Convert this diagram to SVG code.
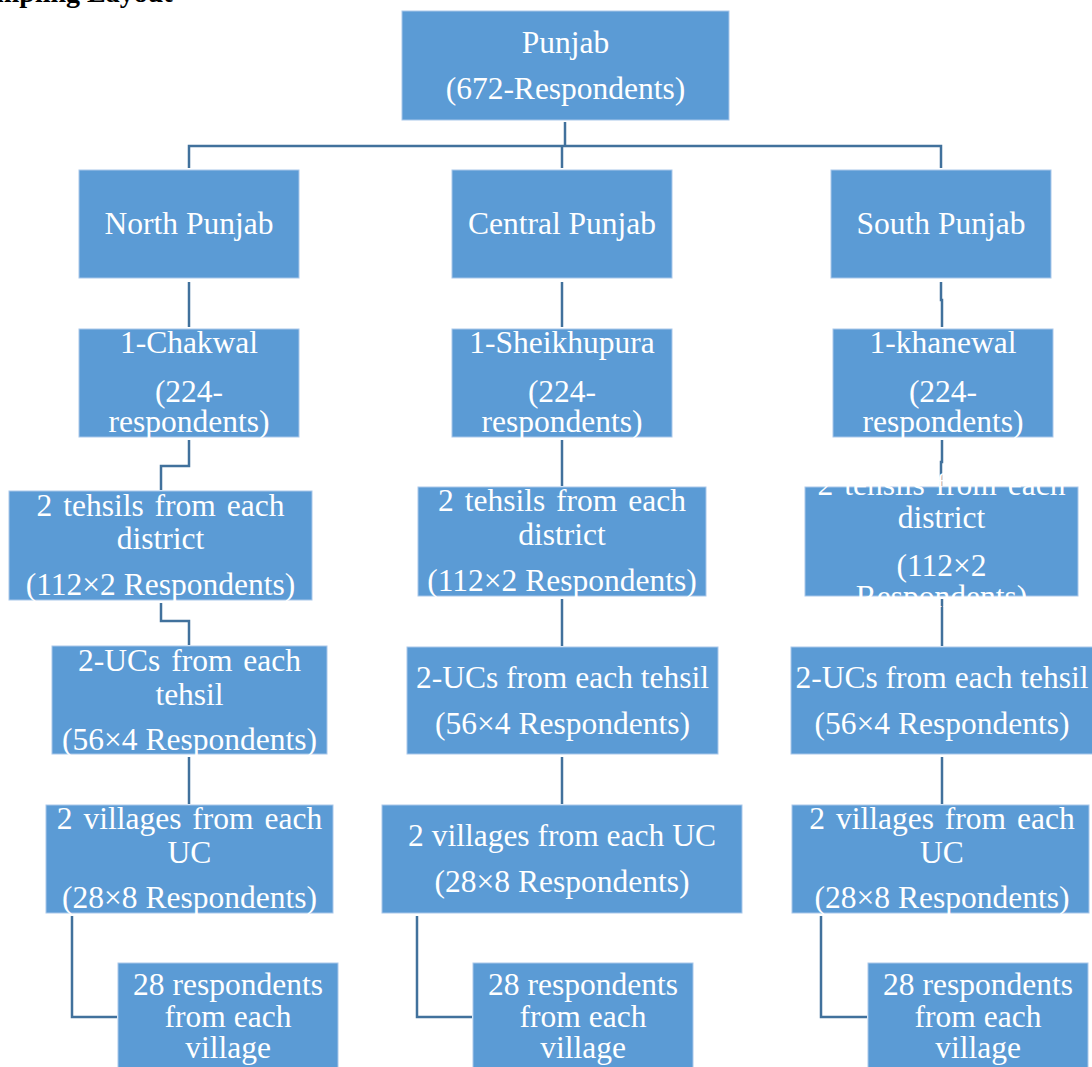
<svg xmlns="http://www.w3.org/2000/svg" width="1092" height="1067" viewBox="0 0 1092 1067">
<style>
.box{fill:#5B9BD5;stroke:#A9C7EA;stroke-width:1}
.t{font-family:"Liberation Serif","Times New Roman",serif;font-size:31.5px;fill:#FFFFFF;text-anchor:middle}
.w{word-spacing:3px}
.c{fill:none;stroke:#41719C;stroke-width:2.5}
.title{font-family:"Liberation Serif","Times New Roman",serif;font-size:28px;font-weight:bold;fill:#000000}
</style>
<rect width="1092" height="1067" fill="#FFFFFF"/>
<text class="title" x="-4" y="2">mpling Layout</text>
<g id="connectors">
<path class="c" d="M565,122 V146"/>
<path class="c" d="M189,168 V146 H941 V168"/>
<path class="c" d="M562,146 V168"/>
<path class="c" d="M189,282 V327"/>
<path class="c" d="M562,282 V327"/>
<path class="c" d="M941,282 V300 H942 V327"/>
<path class="c" d="M189,440 V466 H161 V490"/>
<path class="c" d="M562,440 V486"/>
<path class="c" d="M942,440 V462 H941 V486"/>
<path class="c" d="M161,603 V621 H189 V645"/>
<path class="c" d="M562,599 V646"/>
<path class="c" d="M942,599 V646"/>
<path class="c" d="M189,757 V804"/>
<path class="c" d="M562,757 V804"/>
<path class="c" d="M942,757 V804"/>
<path class="c" d="M72,916 V1017 H117"/>
<path class="c" d="M417,916 V1017 H472"/>
<path class="c" d="M821,916 V1017 H867"/>
</g>
<g id="punjab"><rect class="box" x="402" y="11" width="327" height="109"/>
<text class="t" x="565.5" y="53">Punjab</text><text class="t" x="565.5" y="99">(672-Respondents)</text></g>
<g id="north"><rect class="box" x="79" y="170" width="220" height="108"/>
<text class="t" x="189" y="234">North Punjab</text></g>
<g id="central"><rect class="box" x="452" y="170" width="220" height="108"/>
<text class="t" x="562" y="234">Central Punjab</text></g>
<g id="south"><rect class="box" x="831" y="170" width="220" height="108"/>
<text class="t" x="941" y="234">South Punjab</text></g>
<g id="chakwal"><rect class="box" x="79" y="329" width="220" height="108"/>
<text class="t" x="189" y="353">1-Chakwal</text><text class="t" x="189" y="402">(224-</text><text class="t" x="189" y="432">respondents)</text></g>
<g id="sheikhupura"><rect class="box" x="452" y="329" width="220" height="108"/>
<text class="t" x="562" y="353">1-Sheikhupura</text><text class="t" x="562" y="402">(224-</text><text class="t" x="562" y="432">respondents)</text></g>
<g id="khanewal"><rect class="box" x="833" y="329" width="220" height="108"/>
<text class="t" x="943" y="353">1-khanewal</text><text class="t" x="943" y="402">(224-</text><text class="t" x="943" y="432">respondents)</text></g>
<g id="tehsil-north"><rect class="box" x="9" y="491" width="303" height="109"/>
<text class="t w" x="160.5" y="516">2 tehsils from each</text><text class="t" x="160.5" y="549">district</text><text class="t" x="160.5" y="595">(112×2 Respondents)</text></g>
<g id="tehsil-central"><rect class="box" x="418" y="487" width="288" height="109"/>
<text class="t w" x="562" y="511">2 tehsils from each</text><text class="t" x="562" y="545">district</text><text class="t" x="562" y="591">(112×2 Respondents)</text></g>
<g id="tehsil-south"><rect class="box" x="805" y="487" width="273" height="109"/>
<text class="t w" x="941.5" y="495">2 tehsils from each</text><text class="t" x="941.5" y="528">district</text><text class="t" x="941.5" y="576">(112×2</text><text class="t" x="941.5" y="607">Respondents)</text></g>
<g id="uc-north"><rect class="box" x="52" y="646" width="275" height="108"/>
<text class="t w" x="189.5" y="671">2-UCs from each</text><text class="t" x="189.5" y="705">tehsil</text><text class="t" x="189.5" y="750">(56×4 Respondents)</text></g>
<g id="uc-central"><rect class="box" x="407" y="647" width="311" height="107"/>
<text class="t" x="562.5" y="688">2-UCs from each tehsil</text><text class="t" x="562.5" y="734">(56×4 Respondents)</text></g>
<g id="uc-south"><rect class="box" x="791" y="647" width="302" height="107"/>
<text class="t" x="942" y="688">2-UCs from each tehsil</text><text class="t" x="942" y="734">(56×4 Respondents)</text></g>
<g id="village-north"><rect class="box" x="46" y="805" width="287" height="108"/>
<text class="t w" x="189.5" y="829">2 villages from each</text><text class="t" x="189.5" y="863">UC</text><text class="t" x="189.5" y="908">(28×8 Respondents)</text></g>
<g id="village-central"><rect class="box" x="382" y="805" width="360" height="108"/>
<text class="t" x="562" y="846">2 villages from each UC</text><text class="t" x="562" y="892">(28×8 Respondents)</text></g>
<g id="village-south"><rect class="box" x="792" y="805" width="297" height="108"/>
<text class="t w" x="942" y="829">2 villages from each</text><text class="t" x="942" y="863">UC</text><text class="t" x="942" y="908">(28×8 Respondents)</text></g>
<g id="resp-north"><rect class="box" x="118" y="963" width="220" height="110"/>
<text class="t" x="228" y="995">28 respondents</text><text class="t" x="228" y="1027">from each</text><text class="t" x="228" y="1058">village</text></g>
<g id="resp-central"><rect class="box" x="473" y="963" width="220" height="110"/>
<text class="t" x="583" y="995">28 respondents</text><text class="t" x="583" y="1027">from each</text><text class="t" x="583" y="1058">village</text></g>
<g id="resp-south"><rect class="box" x="868" y="963" width="220" height="110"/>
<text class="t" x="978" y="995">28 respondents</text><text class="t" x="978" y="1027">from each</text><text class="t" x="978" y="1058">village</text></g>
</svg>
